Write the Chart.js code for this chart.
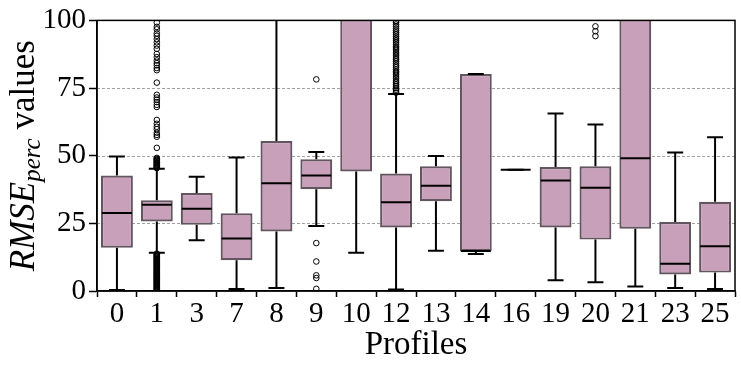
<!DOCTYPE html>
<html>
<head>
<meta charset="utf-8">
<script src="https://cdn.jsdelivr.net/npm/chart.js@4.4.0/dist/chart.umd.min.js"></script>
<style>
html,body{margin:0;padding:0;background:#fff;}
#wrap{width:741px;height:368px;}
</style>
</head>
<body>
<div id="wrap"><canvas id="chart" width="741" height="368"></canvas></div>
<script>
// valeurs
const profiles = ['0','1','3','7','8','9','10','12','13','14','16','19','20','21','23','25'];
const q1      = [16.0, 25.7, 24.5, 11.4, 22.0, 37.6, 44.2, 23.5, 33.2, 14.7, 44.8, 23.5, 19.0, 23.0,  6.1,  6.8];
const median  = [28.8, 31.9, 30.4, 19.4, 39.8, 42.7, 125,  32.8, 38.9, 14.8, 44.8, 40.8, 38.2, 49.1, 10.1, 16.5];
const q3      = [42.7, 33.5, 36.2, 28.7, 55.4, 48.7, 160,  43.4, 46.1, 80.2, 44.8, 45.8, 46.1, 140,  25.5, 33.0];
const whiskLo = [ 0.4, 14.1, 18.8,  0.7,  1.1, 24.0, 14.1,  0.6, 14.9, 13.7, 44.8,  4.0,  3.2,  1.7,  1.1,  0.7];
const whiskHi = [49.7, 45.2, 42.2, 49.3, 110,  51.4, 220,  72.8, 49.9, 80.2, 44.8, 65.6, 61.5, 220,  51.2, 56.8];
const yTicks  = [0, 25, 50, 75, 100];

// points aberrants
const out1 = [0.1, 0.3, 0.6, 0.8, 1.0, 1.3, 1.5, 1.8, 2.0, 2.2, 2.5, 2.7, 3.0, 3.2, 3.4, 3.7, 3.9, 4.2,
  4.4, 4.6, 4.9, 5.1, 5.4, 5.6, 5.8, 6.1, 6.3, 6.6, 6.8, 7.0, 7.3, 7.5, 7.8, 8.0, 8.2, 8.5, 8.7, 9.0,
  9.2, 9.4, 9.7, 9.9, 10.2, 10.4, 10.6, 10.9, 11.1, 11.4, 11.6, 11.8, 12.1, 12.3, 12.6, 12.8, 13.0,
  13.3, 13.5, 13.8,
  45.4, 45.6, 45.9, 46.1, 46.4, 46.6, 46.9, 47.1, 47.4, 47.6, 47.9, 48.1, 48.4, 48.6, 48.9, 49.2,
  52.9, 57.0, 57.7, 58.5, 59.8, 60.7, 61.8, 63.2, 68.0, 68.8, 69.8, 70.7, 71.5, 72.5, 77.0,
  81.6, 82.4, 83.4, 84.2, 85.2, 86.4, 87.6, 89.5, 90.7, 91.9, 93.1, 94.3, 95.2, 96.7, 97.6, 99.2];
const out9 = [78.2, 17.7, 10.9, 5.8, 4.8, 0.8];
const out12 = [73.3, 73.9, 74.4, 75.0, 75.7, 76.3, 77.0, 77.6, 78.4, 79.1, 79.9, 80.6, 81.2, 81.9, 82.7,
  83.3, 84.0, 84.8, 85.5, 86.1, 86.9, 87.6, 88.3, 89.1, 89.8, 90.4, 91.2, 92.0, 92.7, 93.4, 94.1,
  94.9, 95.6, 96.3, 97.0, 97.8, 98.5, 99.3, 99.8];
const out20 = [97.8, 96.0, 94.2];

const outliers = []
  .concat(out1.map(v => ({x: '1', y: v})))
  .concat(out9.map(v => ({x: '9', y: v})))
  .concat(out12.map(v => ({x: '12', y: v})))
  .concat(out20.map(v => ({x: '20', y: v})));

const serif = "'Liberation Serif', 'Times New Roman', serif";

// moustaches, medianes, grille, cadre et titre Y
const boxExtras = {
  id: 'boxExtras',
  beforeDatasetsDraw(chart) {
    const {ctx, chartArea: a, scales: {y}} = chart;
    ctx.save();
    ctx.strokeStyle = '#a0a0a0';
    ctx.lineWidth = 1;
    ctx.setLineDash([3, 2]);
    yTicks.forEach(v => {
      if (v <= 0 || v >= 100) return;
      const py = Math.round(y.getPixelForValue(v)) + 0.5;
      ctx.beginPath(); ctx.moveTo(a.left, py); ctx.lineTo(a.right, py); ctx.stroke();
    });
    ctx.restore();
  },
  afterDatasetDraw(chart, args) {
    if (args.index !== 0) return;
    const {ctx, chartArea: a, scales: {x, y}} = chart;
    const bars = chart.getDatasetMeta(0).data;
    ctx.save();
    ctx.beginPath(); ctx.rect(a.left, a.top, a.right - a.left, a.bottom - a.top); ctx.clip();
    ctx.strokeStyle = '#000';
    ctx.lineWidth = 2;
    profiles.forEach((p, i) => {
      const cx = x.getPixelForValue(i);
      const w = bars[i].width;
      const cap = w / 2;
      const yq1 = y.getPixelForValue(q1[i]), yq3 = y.getPixelForValue(q3[i]);
      const ylo = y.getPixelForValue(whiskLo[i]), yhi = y.getPixelForValue(whiskHi[i]);
      const ym = y.getPixelForValue(median[i]);
      ctx.beginPath();
      ctx.moveTo(cx, yq3); ctx.lineTo(cx, yhi);
      ctx.moveTo(cx, yq1); ctx.lineTo(cx, ylo);
      ctx.moveTo(cx - cap / 2, yhi); ctx.lineTo(cx + cap / 2, yhi);
      ctx.moveTo(cx - cap / 2, ylo); ctx.lineTo(cx + cap / 2, ylo);
      ctx.stroke();
      ctx.beginPath();
      ctx.moveTo(cx - w / 2 + 1, ym); ctx.lineTo(cx + w / 2 - 1, ym);
      ctx.stroke();
    });
    ctx.restore();
  },
  afterDraw(chart) {
    const {ctx, chartArea: a} = chart;
    ctx.save();
    ctx.strokeStyle = '#000';
    ctx.lineWidth = 1.5;
    ctx.strokeRect(a.left, a.top, a.right - a.left, a.bottom - a.top);
    // titre Y : RMSE_perc values
    ctx.translate(34, (a.top + a.bottom) / 2);
    ctx.rotate(-Math.PI / 2);
    ctx.fillStyle = '#000';
    ctx.textBaseline = 'alphabetic';
    const f1 = 'italic 35px ' + serif, f2 = 'italic 25px ' + serif, f3 = '35px ' + serif;
    ctx.font = f1; const w1 = ctx.measureText('RMSE').width;
    ctx.font = f2; const w2 = ctx.measureText('perc').width;
    ctx.font = f3; const w3 = ctx.measureText(' values').width;
    let sx = -(w1 + w2 + w3) / 2;
    ctx.font = f1; ctx.fillText('RMSE', sx, 0); sx += w1;
    ctx.font = f2; ctx.fillText('perc', sx, 6); sx += w2;
    ctx.font = f3; ctx.fillText(' values', sx, 0);
    ctx.restore();
  }
};

const ctx = document.getElementById('chart').getContext('2d');
new Chart(ctx, {
  type: 'bar',
  data: {
    labels: profiles,
    datasets: [{
      label: 'box',
      data: profiles.map((p, i) => [q1[i], q3[i]]),
      backgroundColor: 'rgb(201,160,185)',
      borderColor: 'rgb(100,86,96)',
      borderWidth: 2.2,
      borderSkipped: false,
      barPercentage: 0.8,
      categoryPercentage: 1.0,
      order: 2
    }, {
      type: 'scatter',
      label: 'outliers',
      data: outliers,
      pointStyle: 'circle',
      pointRadius: 2.8,
      pointBackgroundColor: 'rgba(0,0,0,0)',
      pointBorderColor: '#000',
      pointBorderWidth: 1,
      order: 1
    }]
  },
  plugins: [boxExtras],
  options: {
    responsive: false,
    animation: false,
    devicePixelRatio: 1,
    layout: {padding: {top: 16, right: 6, left: 0, bottom: 0}},
    plugins: {legend: {display: false}, tooltip: {enabled: false}},
    scales: {
      x: {
        type: 'category',
        offset: true,
        grid: {display: true, drawOnChartArea: false, tickLength: 6, tickColor: '#000', tickWidth: 1.5},
        border: {display: true, color: '#000', width: 1.5},
        ticks: {color: '#000', font: {family: serif, size: 29}, padding: 0, maxRotation: 0, autoSkip: false},
        title: {display: true, text: 'Profiles', color: '#000', font: {family: serif, size: 33}, padding: {top: 0, bottom: 3}},
        afterFit: s => { s.height = 77; }
      },
      y: {
        min: 0, max: 100,
        grid: {display: true, drawOnChartArea: false, tickLength: 8, tickColor: '#000', tickWidth: 1.5},
        border: {display: true, color: '#000', width: 1.5},
        ticks: {stepSize: 25, color: '#000', font: {family: serif, size: 29}, padding: 3},
        afterFit: s => { s.width = 97; }
      }
    }
  }
});
</script>
</body>
</html>
